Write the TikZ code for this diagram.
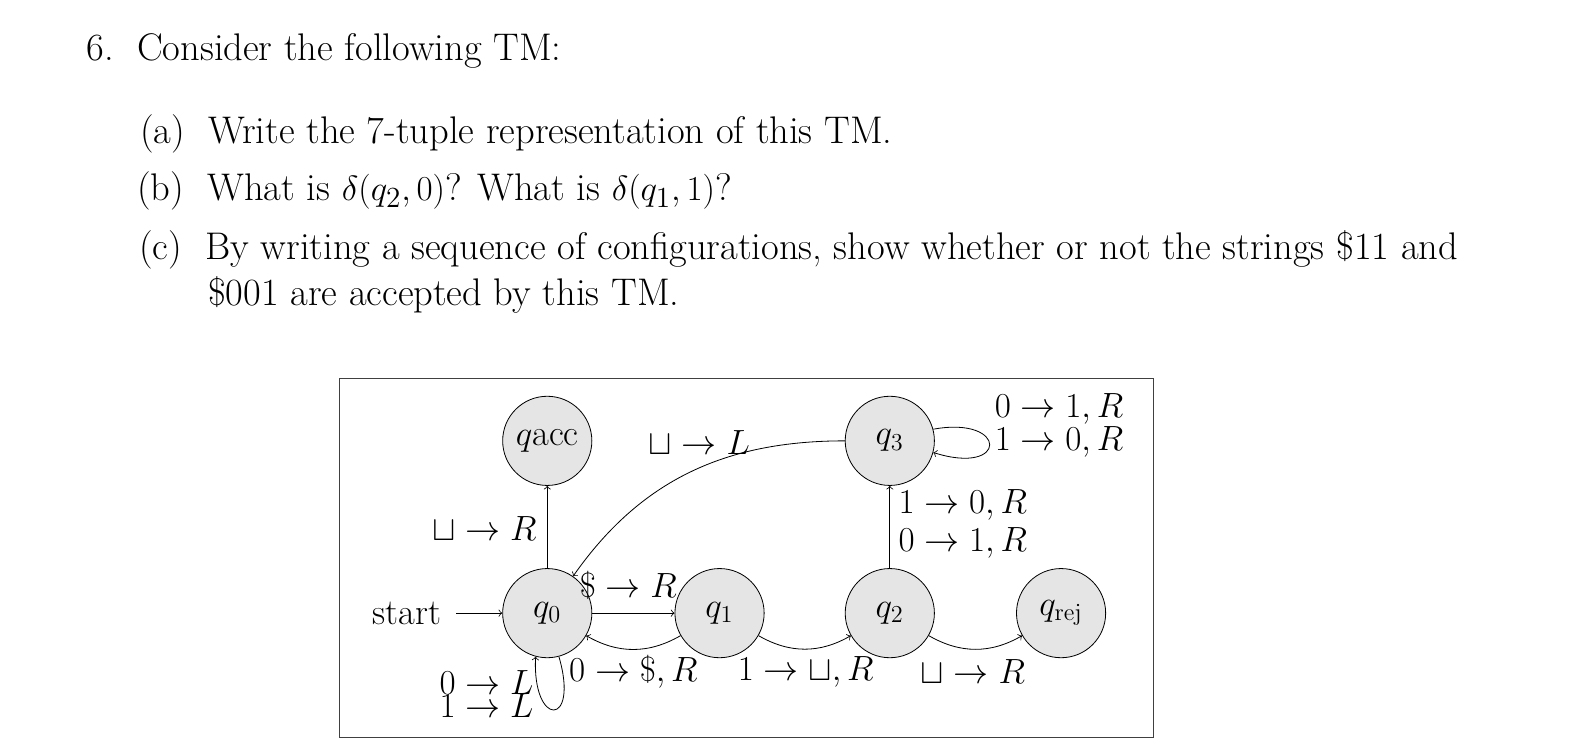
\documentclass[tikz,border=0pt]{standalone}
\usetikzlibrary{arrows,automata}
\begin{document}
\begin{tikzpicture}[x=0.5pt,y=-0.5pt,
  st/.style={circle,draw,fill=black!10,minimum size=44pt,inner sep=0pt,font=\fontsize{18}{18}\selectfont},
  lbl/.style={font=\fontsize{18}{14}\selectfont,inner sep=1pt},
  txt/.style={anchor=base west,font=\fontsize{19}{22}\selectfont,inner sep=0pt},
  every edge/.style={draw,->,>=to}]
\useasboundingbox (0,0) rectangle (1563,740);
\node[txt] (t0) at (85,60) {6.\ \ Consider the following TM:};
\node[txt] (ta) at (138,142) {(a)\ \ Write the 7-tuple representation of this TM.};
\node[txt] (tb) at (135,198) {(b)\ \ What is $\delta(q_2,0)$? What is $\delta(q_1,1)$?};
\node[txt] (tc) at (137,256) {(c)\ \ By writing a sequence of configurations, show whether or not the strings \$11 and};
\node[txt] (tc2) at (205,301) {\$001 are accepted by this TM.};
\draw[black!75] (335,373) rectangle (1138,728);
\node[st] (qa) at (540,435) {$q$acc};
\node[st] (q0) at (540,605) {$q_0$};
\node[st] (q1) at (710,605) {$q_1$};
\node[st] (q2) at (878,605) {$q_2$};
\node[st] (q3) at (878,435) {$q_3$};
\node[st] (qr) at (1047,605) {$q_{\mathrm{rej}}$};
\node[lbl,anchor=east] (start) at (438,605) {start};
\path (start.east) ++(12,0) coordinate (s0);
\path (s0) edge (q0)
  (q0) edge (qa)
  (q0) edge (q1)
  (q2) edge (q3)
  (q3.west) edge[out=180,in=55] (q0.55)
  (q1.-150) edge[out=-150,in=-30] (q0.-30)
  (q1.-30) edge[out=-30,in=-150] (q2.-150)
  (q2.-30) edge[out=-30,in=-150] (qr.-150);
\draw[->,>=to] (q0.-75) .. controls (572,718) and (525,718) .. (q0.-105);
\draw[->,>=to] (q3.15) .. controls (995,410) and (995,470) .. (q3.-15);
\node[lbl] (l1) at (478,522) {$\sqcup\to R$};
\node[lbl] (l2) at (690,437) {$\sqcup\to L$};
\node[lbl] (l3) at (620,578) {$\$\to R$};
\node[lbl] (l4) at (625,663) {$0\to\$,R$};
\node[lbl] (l5) at (795,663) {$1\to\sqcup,R$};
\node[lbl] (l6) at (960,663) {$\sqcup\to R$};
\node[lbl,align=left] (l7) at (950,517) {$1\to0,R$\\[3pt]$0\to1,R$};
\node[lbl,align=left] (l8) at (1045,420) {$0\to1,R$\\$1\to0,R$};
\node[lbl,align=left] (l9) at (480,685) {$0\to L$\\[-2.5pt]$1\to L$};
\end{tikzpicture}
\end{document}
